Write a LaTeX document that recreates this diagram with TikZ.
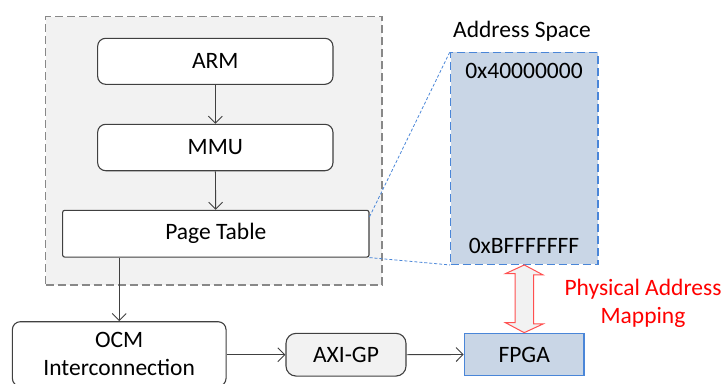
\documentclass[tikz,border=0pt]{standalone}
\usepackage{fontspec}
\setmainfont{Carlito}
\usetikzlibrary{arrows.meta}
\definecolor{boxline}{HTML}{404040}
\definecolor{lightgray}{HTML}{F2F2F2}
\definecolor{contline}{HTML}{888888}
\definecolor{bluefill}{HTML}{C9D6E6}
\definecolor{blueline}{HTML}{4A86D8}
\definecolor{redline}{HTML}{FF5050}
\tikzset{
  lbl/.style={font=\fontsize{23.5}{28}\selectfont, inner sep=0pt},
  rbox/.style={lbl, draw=boxline, line width=1.1pt, rounded corners=8pt, fill=white},
  conn/.style={draw=boxline, line width=0.9pt, -{Straight Barb[length=7pt,width=14pt]}},
  bluebox/.style={lbl, draw=blueline, fill=bluefill, line width=1.3pt},
  bluedash/.style={draw=blueline, line width=0.8pt, dash pattern=on 3pt off 2pt},
}
\begin{document}
\begin{tikzpicture}[x=1pt,y=-1pt]
\useasboundingbox (0,0) rectangle (725,383);
\clip (0,0) rectangle (725,383);
% container
\node[draw=contline, fill=lightgray, line width=1.4pt, dash pattern=on 8pt off 4pt,
      minimum width=336.3pt, minimum height=268.3pt, inner sep=0pt] (cont) at (213.8,150.8) {};
% boxes
\node[rbox, minimum width=235.3pt, minimum height=46pt] (arm) at (215.3,61.3) {ARM};
\node[rbox, minimum width=235.3pt, minimum height=46.4pt] (mmu) at (215.3,147.5) {MMU};
\node[rbox, rounded corners=2pt, minimum width=306.3pt, minimum height=46.7pt] (pt) at (215.8,233.7) {Page Table};
\node[rbox, minimum width=213.7pt, minimum height=64.6pt, align=center] (ocm) at (119.2,354) {OCM\\Interconnection};
\node[rbox, fill=lightgray, rounded corners=10pt, minimum width=120pt, minimum height=42.7pt] (axi) at (346,354.7) {AXI-GP};
\node[bluebox, minimum width=119.7pt, minimum height=42.4pt] (fpga) at (524.2,354.5) {FPGA};
% address space
\node[bluebox, dash pattern=on 8pt off 4pt, minimum width=147.3pt, minimum height=212pt] (as) at (524.3,158.3) {};
\node[lbl] (astitle) at (522,31.7) {Address Space};
\node[lbl] (atop) at (524,71) {0x40000000};
\node[lbl] (abot) at (524,245.7) {0xBFFFFFFF};
% connectors
\draw[conn] (arm) -- (mmu);
\draw[conn] (mmu) -- (pt);
\draw[conn] (pt.south -| ocm.north) -- (ocm.north);
\draw[conn] (ocm.east |- axi.west) -- (axi.west);
\draw[conn] (axi.east) -- (fpga.west);
% zoom lines
\draw[bluedash] ([yshift=-7pt]pt.north east) -- (as.north west);
\draw[bluedash] (pt.south east) -- (as.south west);
% double arrow
\draw[draw=redline, fill=lightgray, line width=1pt, line join=miter]
  (as.south) -- ++(18.8,10) -- ++(-9.6,0) -- ++(0,49) -- ++(9.6,0)
  -- (fpga.north) -- ++(-18.8,-10) -- ++(9.6,0) -- ++(0,-49) -- ++(-9.6,0) -- cycle;
\node[lbl, text=red, align=center] (map) at (643,303.8) {Physical Address\\Mapping};
\end{tikzpicture}
\end{document}
